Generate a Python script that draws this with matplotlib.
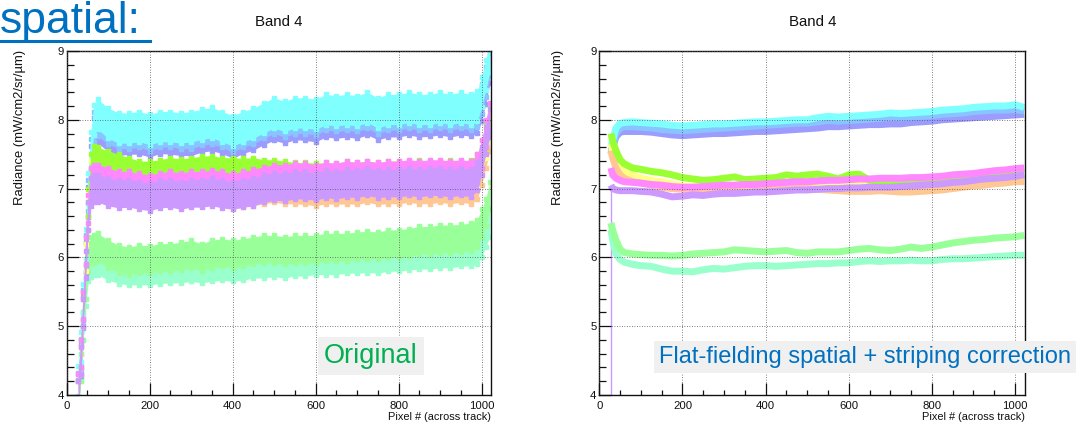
import matplotlib

matplotlib.use("Agg")
import matplotlib.pyplot as plt  # noqa: E402
from matplotlib.lines import Line2D  # noqa: E402
from matplotlib.ticker import MultipleLocator  # noqa: E402
import numpy as np  # noqa: E402

plt.rcParams["font.family"] = ["Liberation Sans", "DejaVu Sans"]

W, H = 1078, 426  # output size, pixels
INK = "#111111"
SLIDE_BLUE = "#0070c0"
SLIDE_GREEN = "#00b050"
BOX_GRAY = "#f0f0f0"

# ten acquisitions, ROOT pastel palette
COLORS = {
    "cyan": "#80ffff",
    "lightblue": "#88c4ff",
    "periwinkle": "#9c9cff",
    "green": "#99ff33",
    "yellow": "#ffff88",
    "orange": "#ffc794",
    "pink": "#ff88ff",
    "violet": "#cc99ff",
    "lightgreen": "#99ff99",
    "aqua": "#99ffcc",
}

# ---- original (noisy) radiance: band centre per pixel sample ----
X_ORIG = [28, 34, 40, 46, 52, 58, 65, 75,
          100, 125, 150, 175, 200, 225, 250, 275, 300, 325, 350, 375,
          400, 425, 450, 475, 500, 525, 550, 575, 600, 625, 650, 675,
          700, 725, 750, 775, 800, 825, 850, 875, 900, 925, 950, 975,
          990, 1000, 1010, 1020]
CYAN_ORIG = [4.2, 4.7, 5.4, 6.2, 7.0, 7.6, 8.0, 8.08,
             7.95, 7.88, 7.88, 7.9, 7.86, 7.9, 7.9, 7.88, 7.9, 7.93, 7.96, 7.9,
             7.84, 7.9, 7.95, 8.03, 8.1, 8.05, 8.1, 8.1, 8.08, 8.15, 8.13, 8.15,
             8.13, 8.18, 8.1, 8.15, 8.15, 8.18, 8.15, 8.15, 8.18, 8.15, 8.18, 8.15,
             8.2, 8.4, 8.65, 8.92]
LIGHTBLUE_ORIG = [4.1, 4.6, 5.3, 6.1, 6.9, 7.5, 7.9, 7.98,
                  7.87, 7.8, 7.8, 7.82, 7.77, 7.82, 7.83, 7.8, 7.8, 7.85, 7.87, 7.82,
                  7.75, 7.82, 7.87, 7.95, 8.02, 7.97, 8.02, 8.02, 8.0, 8.07, 8.05, 8.07,
                  8.05, 8.1, 8.02, 8.07, 8.07, 8.1, 8.07, 8.07, 8.1, 8.07, 8.1, 8.07,
                  8.12, 8.3, 8.55, 8.85]
PERIWINKLE_ORIG = [4.0, 4.5, 5.2, 6.0, 6.8, 7.4, 7.8, 7.88,
                   7.76, 7.7, 7.72, 7.72, 7.68, 7.73, 7.72, 7.7, 7.7, 7.75, 7.77, 7.73,
                   7.66, 7.73, 7.78, 7.86, 7.92, 7.88, 7.93, 7.92, 7.9, 7.97, 7.95, 7.97,
                   7.95, 8.0, 7.93, 7.97, 7.97, 8.0, 7.97, 7.98, 8.0, 7.97, 8.0, 7.98,
                   8.03, 8.2, 8.45, 8.75]
GREEN_ORIG = [4.1, 4.6, 5.3, 6.1, 6.8, 7.3, 7.42, 7.4,
              7.35, 7.3, 7.25, 7.2, 7.2, 7.22, 7.25, 7.23, 7.25, 7.27, 7.28, 7.25,
              7.25, 7.24, 7.25, 7.22, 7.22, 7.2, 7.18, 7.18, 7.17, 7.18, 7.17, 7.2,
              7.18, 7.2, 7.18, 7.2, 7.2, 7.2, 7.22, 7.2, 7.2, 7.22, 7.2, 7.22,
              7.3, 7.5, 7.75, 8.0]
YELLOW_ORIG = [4.0, 4.5, 5.2, 6.0, 6.7, 7.2, 7.3, 7.28,
               7.22, 7.15, 7.1, 7.05, 7.02, 7.02, 7.03, 7.02, 7.03, 7.03, 7.05, 7.03,
               7.0, 7.02, 7.05, 7.08, 7.1, 7.08, 7.1, 7.1, 7.08, 7.1, 7.1, 7.12,
               7.1, 7.12, 7.1, 7.1, 7.12, 7.12, 7.12, 7.12, 7.13, 7.12, 7.13, 7.12,
               7.2, 7.4, 7.65, 7.9]
ORANGE_ORIG = [4.0, 4.5, 5.2, 6.0, 6.6, 7.1, 7.15, 7.12,
               7.05, 7.0, 6.98, 6.95, 6.93, 6.95, 6.95, 6.93, 6.95, 6.95, 6.97, 6.95,
               6.9, 6.93, 6.95, 6.98, 7.0, 6.98, 6.98, 6.97, 6.95, 6.98, 6.97, 6.98,
               6.97, 7.0, 6.97, 6.98, 6.98, 7.0, 6.98, 6.98, 7.0, 6.98, 7.0, 6.98,
               7.05, 7.25, 7.5, 7.75]
PINK_ORIG = [4.1, 4.6, 5.3, 6.1, 6.7, 7.1, 7.15, 7.15,
             7.1, 7.05, 7.05, 7.02, 7.0, 7.03, 7.05, 7.03, 7.05, 7.05, 7.07, 7.05,
             7.02, 7.05, 7.08, 7.12, 7.15, 7.15, 7.17, 7.17, 7.15, 7.18, 7.17, 7.2,
             7.18, 7.2, 7.18, 7.2, 7.2, 7.22, 7.2, 7.22, 7.22, 7.2, 7.22, 7.2,
             7.3, 7.5, 7.8, 8.05]
VIOLET_ORIG = [4.0, 4.5, 5.2, 5.9, 6.6, 6.95, 7.0, 7.0,
               6.95, 6.92, 6.93, 6.9, 6.88, 6.92, 6.93, 6.9, 6.93, 6.93, 6.95, 6.92,
               6.9, 6.93, 6.95, 7.0, 7.03, 7.02, 7.05, 7.05, 7.03, 7.07, 7.05, 7.08,
               7.07, 7.1, 7.07, 7.08, 7.08, 7.1, 7.08, 7.1, 7.1, 7.08, 7.1, 7.08,
               7.18, 7.4, 7.7, 7.95]
LIGHTGREEN_ORIG = [4.0, 4.4, 5.0, 5.6, 6.0, 6.1, 6.12, 6.15,
                   6.05, 5.98, 5.95, 5.98, 5.97, 6.0, 6.0, 6.02, 6.05, 6.0, 6.05, 6.07,
                   6.05, 6.07, 6.1, 6.12, 6.12, 6.1, 6.12, 6.12, 6.12, 6.15, 6.15, 6.15,
                   6.17, 6.18, 6.17, 6.2, 6.2, 6.22, 6.25, 6.25, 6.27, 6.27, 6.28, 6.3,
                   6.35, 6.5, 6.65, 6.9]
AQUA_ORIG = [4.0, 4.4, 5.0, 5.5, 5.85, 5.92, 5.95, 5.95,
             5.87, 5.82, 5.8, 5.8, 5.8, 5.82, 5.83, 5.83, 5.85, 5.83, 5.85, 5.87,
             5.85, 5.87, 5.9, 5.9, 5.92, 5.9, 5.93, 5.93, 5.95, 5.95, 5.95, 5.97,
             5.97, 5.98, 5.97, 6.0, 6.0, 6.02, 6.03, 6.03, 6.05, 6.05, 6.07, 6.08,
             6.1, 6.2, 6.35, 6.5]
# half-width of the pixel-to-pixel scatter of each acquisition
SPREAD_ORIG = {"cyan": 0.22, "lightblue": 0.22, "periwinkle": 0.22,
               "green": 0.2, "yellow": 0.2, "orange": 0.2, "pink": 0.2,
               "violet": 0.2, "lightgreen": 0.2, "aqua": 0.2}

# ---- after flat-fielding + striping correction ----
X_CORR = [28, 32, 40, 50, 60, 80] + list(range(100, 1001, 25)) + [1022]
CYAN_CORR = [7.6, 7.7, 7.88, 7.95, 7.96, 7.97,
             7.96, 7.95, 7.94, 7.92, 7.91, 7.92, 7.93, 7.94, 7.94, 7.95, 7.96, 7.97,
             7.97, 7.98, 7.99, 8.0, 8.0, 8.03, 8.05, 8.04, 8.05, 8.06, 8.07, 8.08,
             8.1, 8.09, 8.1, 8.11, 8.12, 8.14, 8.15, 8.16, 8.18, 8.19, 8.2, 8.2,
             8.22, 8.18]
LIGHTBLUE_CORR = [7.5, 7.6, 7.8, 7.88, 7.9, 7.9,
                  7.89, 7.88, 7.86, 7.85, 7.84, 7.85, 7.86, 7.87, 7.88, 7.89, 7.9, 7.91,
                  7.92, 7.93, 7.94, 7.95, 7.95, 7.97, 7.99, 7.98, 7.99, 8.0, 8.01, 8.02,
                  8.04, 8.03, 8.04, 8.05, 8.06, 8.08, 8.09, 8.1, 8.12, 8.13, 8.14, 8.14,
                  8.15, 8.13]
PERIWINKLE_CORR = [7.55, 7.6, 7.75, 7.82, 7.83, 7.83,
                   7.83, 7.82, 7.8, 7.78, 7.77, 7.78, 7.79, 7.8, 7.8, 7.81, 7.82, 7.83,
                   7.83, 7.84, 7.85, 7.86, 7.87, 7.88, 7.9, 7.9, 7.91, 7.92, 7.93, 7.93,
                   7.94, 7.94, 7.96, 7.97, 7.98, 8.0, 8.01, 8.02, 8.03, 8.04, 8.05, 8.06,
                   8.07, 8.08]
GREEN_CORR = [7.8, 7.7, 7.55, 7.42, 7.36, 7.3,
              7.28, 7.25, 7.23, 7.2, 7.16, 7.14, 7.12, 7.13, 7.15, 7.17, 7.13, 7.14,
              7.15, 7.16, 7.2, 7.18, 7.2, 7.21, 7.18, 7.14, 7.2, 7.21, 7.12, 7.11,
              7.1, 7.1, 7.1, 7.1, 7.13, 7.14, 7.14, 7.15, 7.17, 7.18, 7.2, 7.2,
              7.22, 7.22]
YELLOW_CORR = [7.65, 7.55, 7.4, 7.3, 7.25, 7.2,
               7.15, 7.12, 7.1, 7.07, 7.04, 7.03, 7.02, 7.02, 7.03, 7.03, 7.03, 7.04,
               7.04, 7.05, 7.05, 7.05, 7.06, 7.06, 7.05, 7.05, 7.05, 7.05, 7.04, 7.04,
               7.03, 7.04, 7.05, 7.06, 7.07, 7.08, 7.09, 7.1, 7.12, 7.13, 7.14, 7.15,
               7.15, 7.15]
ORANGE_CORR = [7.55, 7.45, 7.3, 7.2, 7.15, 7.1,
               7.08, 7.05, 7.02, 7.0, 6.99, 6.98, 6.98, 6.98, 6.98, 6.99, 6.99, 7.0,
               7.0, 7.0, 7.0, 7.0, 7.0, 6.99, 6.98, 6.97, 6.96, 6.96, 6.96, 6.97,
               6.96, 6.95, 6.95, 6.96, 6.97, 6.98, 7.0, 7.02, 7.04, 7.05, 7.07, 7.08,
               7.1, 7.1]
PINK_CORR = [7.3, 7.2, 7.15, 7.12, 7.1, 7.09,
             7.08, 7.06, 7.05, 7.03, 7.02, 7.02, 7.03, 7.04, 7.05, 7.05, 7.06, 7.06,
             7.07, 7.08, 7.09, 7.1, 7.1, 7.11, 7.12, 7.12, 7.13, 7.14, 7.14, 7.15,
             7.15, 7.15, 7.16, 7.16, 7.17, 7.18, 7.2, 7.21, 7.22, 7.24, 7.26, 7.27,
             7.29, 7.3]
VIOLET_CORR = [7.05, 7.0, 6.98, 6.97, 6.97, 6.97,
               6.96, 6.95, 6.92, 6.88, 6.89, 6.91, 6.9, 6.92, 6.93, 6.93, 6.94, 6.95,
               6.95, 6.96, 6.97, 6.98, 6.98, 6.99, 7.0, 7.0, 7.01, 7.01, 7.02, 7.02,
               7.02, 7.03, 7.04, 7.05, 7.06, 7.07, 7.09, 7.1, 7.12, 7.14, 7.15, 7.16,
               7.18, 7.2]
LIGHTGREEN_CORR = [6.5, 6.4, 6.25, 6.12, 6.07, 6.05,
                   6.04, 6.03, 6.03, 6.02, 6.03, 6.05, 6.06, 6.07, 6.08, 6.11, 6.1, 6.09,
                   6.08, 6.09, 6.1, 6.07, 6.06, 6.08, 6.08, 6.08, 6.1, 6.12, 6.13, 6.11,
                   6.1, 6.12, 6.15, 6.13, 6.15, 6.18, 6.21, 6.23, 6.25, 6.26, 6.28, 6.29,
                   6.3, 6.32]
AQUA_CORR = [6.4, 6.25, 6.05, 5.97, 5.93, 5.9,
             5.88, 5.87, 5.83, 5.8, 5.8, 5.79, 5.82, 5.84, 5.83, 5.85, 5.87, 5.88,
             5.88, 5.87, 5.88, 5.89, 5.9, 5.91, 5.91, 5.92, 5.92, 5.94, 5.95, 5.94,
             5.95, 5.95, 5.96, 5.95, 5.95, 5.97, 5.98, 5.98, 5.99, 6.0, 6.01, 6.02,
             6.03, 6.03]
# first violet sample sits at the bottom of the scale (dead pixel column)
VIOLET_EDGE_X = [28, 28]
VIOLET_EDGE_Y = [3.9, 7.05]

ORIG = {"cyan": CYAN_ORIG, "lightblue": LIGHTBLUE_ORIG, "periwinkle": PERIWINKLE_ORIG,
        "green": GREEN_ORIG, "yellow": YELLOW_ORIG, "orange": ORANGE_ORIG,
        "pink": PINK_ORIG, "violet": VIOLET_ORIG, "lightgreen": LIGHTGREEN_ORIG,
        "aqua": AQUA_ORIG}
CORR = {"cyan": CYAN_CORR, "lightblue": LIGHTBLUE_CORR, "periwinkle": PERIWINKLE_CORR,
        "green": GREEN_CORR, "yellow": YELLOW_CORR, "orange": ORANGE_CORR,
        "pink": PINK_CORR, "violet": VIOLET_CORR, "lightgreen": LIGHTGREEN_CORR,
        "aqua": AQUA_CORR}
# drawing order: last one ends up on top
ORDER_ORIG = ["aqua", "lightgreen", "periwinkle", "lightblue", "cyan",
              "orange", "yellow", "green", "pink", "violet"]
ORDER_CORR = ["aqua", "lightgreen", "periwinkle", "lightblue", "cyan",
              "yellow", "orange", "green", "violet", "pink"]


def px_rect(left, top, right, bottom):
    """Axes rect in figure fraction from pixel box (origin top-left)."""
    return [left / W, 1 - bottom / H, (right - left) / W, (bottom - top) / H]


def style_root(ax, xmax):
    ax.set_xlim(0, xmax)
    ax.set_ylim(4, 9)
    ax.set_xticks(np.arange(0, 1001, 200))
    ax.set_yticks(np.arange(4, 10, 1))
    ax.xaxis.set_minor_locator(MultipleLocator(50))
    ax.yaxis.set_minor_locator(MultipleLocator(0.2))
    ax.tick_params(which="both", direction="in", top=False, right=False,
                   colors=INK, labelsize=8.2, width=0.9)
    ax.tick_params(axis="y", which="major", length=8.5, pad=2)
    ax.tick_params(axis="y", which="minor", length=5)
    ax.tick_params(axis="x", which="major", length=8.5, pad=4)
    ax.tick_params(axis="x", which="minor", length=3.5)
    ax.grid(which="major", color="#555555", lw=0.6, ls=(0, (1, 2)))
    for s in ax.spines.values():
        s.set_color(INK)
        s.set_linewidth(1.0)
    ax.set_axisbelow(False)


fig = plt.figure(figsize=(W / 100, H / 100), dpi=100)

# left: original
ax1 = fig.add_axes(px_rect(66.7, 51, 490.7, 395))
x = np.array(X_ORIG)
for key in ORDER_ORIG:
    c = np.array(ORIG[key])
    s = SPREAD_ORIG[key]
    ax1.fill_between(x, c - s, c + s, color=COLORS[key], lw=0, zorder=2)
    ax1.plot(x, c + s, color=COLORS[key], lw=0, marker="s", ms=2.6, zorder=2)
    ax1.plot(x, c - s, color=COLORS[key], lw=0, marker="s", ms=2.6, zorder=2)
style_root(ax1, 1022)

# right: flat-fielded + destriped
ax2 = fig.add_axes(px_rect(599.3, 51, 1025, 395))
ax2.plot(VIOLET_EDGE_X, VIOLET_EDGE_Y, color=COLORS["violet"], lw=1.0, zorder=2)
xc = np.array(X_CORR)
for key in ORDER_CORR:
    ax2.plot(xc, CORR[key], color=COLORS[key], lw=5.0, solid_capstyle="butt",
             zorder=2)
style_root(ax2, 1024)

for ax, cx, ylx in ((ax1, 279, 20), (ax2, 813, 558)):
    fig.text(cx / W, 1 - 22 / H, "Band 4", ha="center", va="center",
             fontsize=10.8, color=INK)
    fig.text(ylx / W, 1 - 50 / H, "Radiance (mW/cm2/sr/\u00b5m)", rotation=90,
             ha="center", va="top", fontsize=9.4, color=INK)
    ax.set_xlabel("Pixel # (across track)", fontsize=7.9, color=INK,
                  loc="right", labelpad=1)

# slide overlays
fig.text(0 / W, 1 - 33 / H, "spatial:", ha="left", va="baseline",
         fontsize=32, color=SLIDE_BLUE)
fig.add_artist(Line2D([0, 150 / W], [1 - 41 / H, 1 - 41 / H],
                      color=SLIDE_BLUE, lw=2.2, transform=fig.transFigure))
fig.text(371 / W, 1 - 356 / H, "Original", ha="center", va="center",
         fontsize=19.5, color=SLIDE_GREEN,
         bbox=dict(facecolor=BOX_GRAY, edgecolor="none", pad=4.5))
fig.text(659 / W, 1 - 357 / H, "Flat-fielding spatial + striping correction",
         ha="left", va="center", fontsize=17.0, color=SLIDE_BLUE,
         bbox=dict(facecolor=BOX_GRAY, edgecolor="none", pad=3.8))

fig.savefig("out.png", dpi=100)
